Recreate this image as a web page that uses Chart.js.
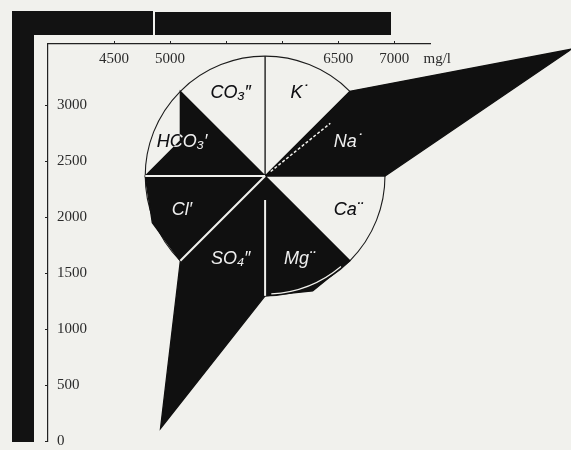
<!DOCTYPE html>
<html lang="ru">
<head>
<meta charset="UTF-8">
<title>Ionic composition diagram</title>
<script src="https://cdn.jsdelivr.net/npm/chart.js"></script>
<style>
  html, body { margin: 0; padding: 0; background: #f1f1ed; }
  #wrap { position: relative; width: 571px; height: 450px; overflow: hidden; }
  #wrap canvas { position: absolute; left: 0; top: 0; }
  .bar { position: absolute; background: #121212; }
</style>
</head>
<body>
<div id="wrap">
  <canvas id="c" width="571" height="450"></canvas>
  <!-- black frame bars of the scan -->
  <div class="bar" style="left:12px;top:11px;width:141px;height:24px"></div>
  <div class="bar" style="left:155px;top:12px;width:236px;height:23px"></div>
  <div class="bar" style="left:12px;top:11px;width:22px;height:431px"></div>
</div>
<script>
// ions clockwise from the top, one 45 degree sector each
const ions = ['K˙', 'Na˙', 'Ca¨', 'Mg¨', 'SO₄″', 'Cl′', 'HCO₃′', 'CO₃″'];
// radial length of each ion (mg/l)
const ionValues = [0, 2960, 0, 1110, 2440, 1090, 820, 0];
const ringValue = 1070;               // radius of the circle
const centre = { x: 5848, y: 2366 };  // centre of the diagram

const xTicks = [4500, 5000, 5500, 6000, 6500, 7000];
const xTickLabels = ['4500', '5000', '', '', '6500', '7000'];
const unitTick = 7385;
const unitLabel = 'mg/l';
const yTicks = [0, 500, 1000, 1500, 2000, 2500, 3000];

// polygon: sector border on the ring, then the ion value on the sector middle
const polygon = [];
function polar(r, deg) {
    const a = deg * Math.PI / 180;
    return { x: centre.x + r * Math.cos(a), y: centre.y + r * Math.sin(a) };
}
ions.forEach((ion, i) => {
    polygon.push(polar(ringValue, 90 - 45 * i));
    polygon.push(polar(ionValues[i], 67.5 - 45 * i));
});
polygon.push(polygon[0]);

const ionDiagram = {
    id: 'ionDiagram',
    beforeDraw(chart) {
        const c = chart.ctx;
        c.save();
        c.fillStyle = '#f1f1ed';
        c.fillRect(0, 0, chart.width, chart.height);
        c.restore();
    },
    beforeDatasetsDraw(chart) {
        const c = chart.ctx, sx = chart.scales.x, sy = chart.scales.y;
        const cx = sx.getPixelForValue(centre.x), cy = sy.getPixelForValue(centre.y);
        const r = sx.getPixelForValue(centre.x + ringValue) - cx;
        c.save();
        c.strokeStyle = '#1c1c1c';
        c.lineWidth = 1.1;
        c.beginPath();
        c.arc(cx, cy, r, 0, Math.PI * 2);
        c.stroke();
        // fill the polygon from the points the line controller placed
        // (the filler plugin would clip it at the chart area)
        const pts = chart.getDatasetMeta(0).data;
        c.fillStyle = '#101010';
        c.beginPath();
        pts.forEach((p, i) => i ? c.lineTo(p.x, p.y) : c.moveTo(p.x, p.y));
        c.closePath();
        c.fill();
        c.restore();
    },
    afterDatasetsDraw(chart) {
        const c = chart.ctx, sx = chart.scales.x, sy = chart.scales.y;
        const pt = (r, deg) => {
            const p = polar(r, deg);
            return [sx.getPixelForValue(p.x), sy.getPixelForValue(p.y)];
        };
        c.save();
        c.strokeStyle = '#f1f1ed';
        c.lineCap = 'butt';
        // white sector borders over the black areas
        [[180, 0, 1], [-135, 0, 1], [-90, 0.2, 1]].forEach(([deg, a, b]) => {
            c.lineWidth = 2;
            c.beginPath();
            c.moveTo(...pt(ringValue * a, deg));
            c.lineTo(...pt(ringValue * b, deg));
            c.stroke();
        });
        c.lineWidth = 1.5;
        c.setLineDash([3, 2]);
        c.beginPath();
        c.moveTo(...pt(ringValue * 0.06, 39));
        c.lineTo(...pt(ringValue * 0.7, 39));
        c.stroke();
        c.setLineDash([]);
        // ring showing through at the bottom of Mg
        const [cx, cy] = pt(0, 0);
        const r = sx.getPixelForValue(centre.x + ringValue) - cx;
        c.lineWidth = 1.2;
        c.beginPath();
        c.arc(cx, cy, r * 0.985, 50 * Math.PI / 180, 87 * Math.PI / 180);
        c.stroke();

        // ion names, inverted against black or white
        c.globalCompositeOperation = 'difference';
        c.fillStyle = '#ffffff';
        c.font = 'italic 18px "Liberation Sans", "DejaVu Sans"';
        c.textAlign = 'center';
        c.textBaseline = 'middle';
        ions.forEach((ion, i) => {
            c.fillText(ion, ...pt(ringValue * 0.75, 67.5 - 45 * i));
        });
        c.restore();
    }
};

const tickFont = { family: '"Liberation Serif", serif', size: 15 };

new Chart(document.getElementById('c'), {
    type: 'scatter',
    data: {
        datasets: [{
            data: polygon,
            showLine: true,
            fill: false,
            borderColor: '#101010',
            borderWidth: 1.3,
            pointRadius: 0,
            tension: 0,
            clip: false
        }]
    },
    plugins: [ionDiagram],
    options: {
        responsive: false,
        animation: false,
        layout: { padding: { left: 27, top: 29, right: 141, bottom: 9 } },
        plugins: { legend: { display: false }, tooltip: { enabled: false } },
        scales: {
            x: {
                type: 'linear',
                position: 'top',
                min: 3910,
                max: 7320,
                afterBuildTicks: s => {
                    s.ticks = xTicks.map(v => ({ value: v })).concat([{ value: unitTick }]);
                },
                afterFit: s => { s.paddingLeft = 0; s.paddingRight = 0; },
                ticks: {
                    mirror: true,
                    padding: 6,
                    autoSkip: false,
                    maxRotation: 0,
                    font: tickFont,
                    color: '#2b2b2b',
                    callback: v => v === unitTick ? unitLabel : xTickLabels[xTicks.indexOf(v)]
                },
                grid: {
                    drawOnChartArea: false,
                    tickLength: 3,
                    tickColor: ctx => ctx.tick && ctx.tick.value === unitTick ? 'rgba(0,0,0,0)' : '#222'
                },
                border: { color: '#222', width: 1.2 }
            },
            y: {
                type: 'linear',
                position: 'left',
                min: 0,
                max: 3545,
                afterBuildTicks: s => { s.ticks = yTicks.map(v => ({ value: v })); },
                afterFit: s => { s.paddingTop = 0; s.paddingBottom = 0; },
                ticks: {
                    mirror: true,
                    padding: 9,
                    font: tickFont,
                    color: '#2b2b2b',
                    callback: v => String(v)
                },
                grid: { drawOnChartArea: false, tickLength: 3, tickColor: '#222' },
                border: { color: '#222', width: 1.2 }
            }
        }
    }
});
</script>
</body>
</html>
